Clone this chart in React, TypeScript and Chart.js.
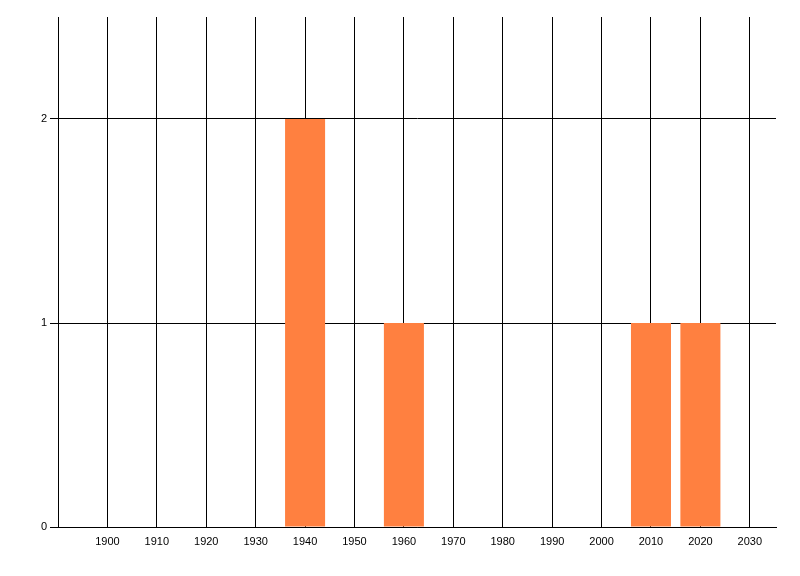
import { useEffect, useRef } from "react";
import { Chart, registerables } from "chart.js";

Chart.register(...registerables);

// decades and how many items fall in each
const decades = [1940, 1960, 2010, 2020];
const counts = [2, 1, 1, 1];
const yTicks = [0, 1, 2];
const xTicks = [1900, 1910, 1920, 1930, 1940, 1950, 1960, 1970, 1980, 1990, 2000, 2010, 2020, 2030];

export default function App() {
  const canvasRef = useRef<HTMLCanvasElement>(null);
  const chartRef = useRef<Chart | null>(null);

  useEffect(() => {
    document.body.style.margin = "0";
    if (!canvasRef.current) return;
    if (chartRef.current) chartRef.current.destroy();
    const ctx = canvasRef.current.getContext("2d");
    if (!ctx) return;

    chartRef.current = new Chart(ctx, {
      type: "bar",
      data: {
        datasets: [
          {
            data: decades.map((d, i) => ({ x: d, y: counts[i] })),
            backgroundColor: "rgb(255, 128, 64)",
            borderWidth: 0,
            barPercentage: 0.9,
            categoryPercentage: 0.9,
          },
        ],
      },
      options: {
        animation: false,
        responsive: false,
        maintainAspectRatio: false,
        layout: { padding: { top: 17, right: 24, left: 0, bottom: 0 } },
        plugins: {
          legend: { display: false },
          tooltip: { enabled: false },
        },
        scales: {
          x: {
            type: "linear",
            offset: false,
            min: 1890,
            max: 2035.3,
            afterBuildTicks: (axis) => {
              axis.ticks = xTicks.map((v) => ({ value: v }));
            },
            afterFit: (axis) => {
              axis.height = 49;
            },
            ticks: {
              autoSkip: false,
              maxRotation: 0,
              padding: 8,
              color: "#000",
              font: { family: "Liberation Sans", size: 11 },
              callback: (v) => String(v),
            },
            grid: {
              offset: false,
              color: "#000",
              lineWidth: 1,
              drawTicks: false,
            },
            border: { color: "#000", width: 1 },
          },
          y: {
            min: 0,
            max: 2.5,
            afterBuildTicks: (axis) => {
              axis.ticks = yTicks.map((v) => ({ value: v }));
            },
            afterFit: (axis) => {
              axis.width = 58;
            },
            ticks: {
              padding: 3,
              color: "#000",
              font: { family: "Liberation Sans", size: 11 },
              callback: (v) => String(v),
            },
            grid: {
              color: "#000",
              lineWidth: 1,
              tickLength: 8,
              drawTicks: true,
            },
            border: { color: "#000", width: 1 },
          },
        },
      },
    });

    return () => {
      chartRef.current?.destroy();
      chartRef.current = null;
    };
  }, []);

  return (
    <div style={{ width: 800, height: 576, background: "#fff" }}>
      <canvas ref={canvasRef} width={800} height={576} />
    </div>
  );
}
